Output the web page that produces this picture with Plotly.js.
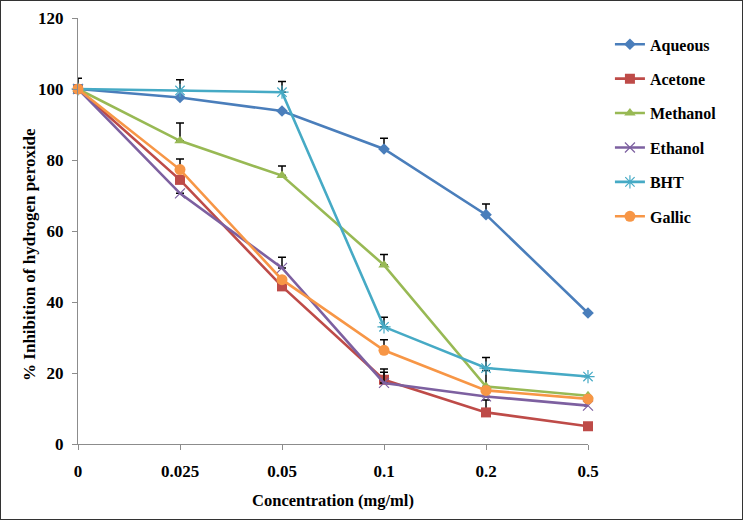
<!DOCTYPE html>
<html>
<head>
<meta charset="utf-8">
<script src="https://cdn.plot.ly/plotly-3.0.1.min.js"></script>
<style>
html,body{margin:0;padding:0;background:#fff;}
#chart{width:741px;height:518px;border:1px solid #333;}
</style>
</head>
<body>
<div id="chart"></div>
<script>
const categories = ["0", "0.025", "0.05", "0.1", "0.2", "0.5"];
const aqueous  = [100, 97.6, 93.8, 83.1, 64.6, 36.9];
const acetone  = [100, 74.4, 44.4, 18.1, 8.9, 5.0];
const methanol = [100, 85.4, 75.6, 50.4, 16.2, 13.6];
const ethanol  = [100, 70.6, 49.6, 17.2, 13.4, 10.8];
const bht      = [100, 99.6, 99.1, 33.0, 21.4, 19.0];
const gallic   = [100, 77.3, 46.3, 26.4, 15.1, 12.7];
const errAqueous  = [3, 0, 0, 3, 3, 0];
const errAcetone  = [0, 0, 0, 3, 3.5, 0];
const errMethanol = [0, 5, 2.7, 3, 4.5, 0];
const errEthanol  = [0, 0, 3, 3, 0, 0];
const errBht      = [0, 3, 3, 2.7, 3, 0];
const errGallic   = [0, 3, 0, 3, 0, 0];
const names = ["Aqueous", "Acetone", "Methanol", "Ethanol", "BHT", "Gallic"];
const xTitle = "Concentration (mg/ml)";
const yTitle = "% Inhibition of hydrogen peroxide";

const series = [aqueous, acetone, methanol, ethanol, bht, gallic];
const errs = [errAqueous, errAcetone, errMethanol, errEthanol, errBht, errGallic];
const colors = ["#4A7EBB", "#BE4B48", "#98B954", "#7D60A0", "#46AAC5", "#F79646"];
const symbols = ["diamond", "square", "triangle-up", "x-thin-open", "asterisk-open", "circle"];
const sizes = [9, 10, 10, 10, 11, 11];
const font = "Liberation Serif, Times New Roman, serif";

const traces = series.map((ys, i) => ({
  x: categories,
  y: ys,
  name: names[i],
  legendgroup: names[i],
  type: "scatter",
  mode: "lines+markers",
  cliponaxis: false,
  line: {color: colors[i], width: 2.6},
  marker: {symbol: symbols[i], size: sizes[i], color: colors[i], line: {color: colors[i], width: (i === 3 || i === 4) ? 1.2 : 0}},
  error_y: {type: "data", symmetric: false, array: errs[i], arrayminus: errs[i].map(() => 0), color: "#000", thickness: 1.5, width: 4}
}));

const layout = {
  width: 741, height: 518,
  margin: {l: 77, r: 154, t: 17, b: 75},
  paper_bgcolor: "#fff", plot_bgcolor: "#fff",
  font: {family: font, size: 16, color: "#000", weight: "bold"},
  showlegend: true,
  legend: {x: 1.043, y: 0.978, xanchor: "left", yanchor: "top", traceorder: "grouped", tracegroupgap: 10.6,
           font: {family: font, size: 16, color: "#000", weight: "bold"}, itemwidth: 30},
  xaxis: {
    type: "category", range: [0, 5], showgrid: false, zeroline: false,
    showline: true, linecolor: "#8c8c8c", linewidth: 1,
    ticks: "outside", ticklen: 5, tickcolor: "#8c8c8c",
    ticklabelstandoff: 7,
    tickfont: {family: font, size: 17, color: "#000", weight: "bold"},
    title: {text: xTitle, font: {family: font, size: 16.5, color: "#000", weight: "bold"}, standoff: 14}
  },
  yaxis: {
    range: [0, 120], dtick: 20, showgrid: false, zeroline: false,
    showline: true, linecolor: "#8c8c8c", linewidth: 1,
    ticks: "outside", ticklen: 5, tickcolor: "#8c8c8c",
    ticklabelstandoff: 5,
    tickfont: {family: font, size: 17, color: "#000", weight: "bold"}
  },
  annotations: [{
    text: yTitle, textangle: -90, showarrow: false,
    xref: "paper", yref: "paper", x: -0.094, y: 0.444, xanchor: "center", yanchor: "middle",
    font: {family: font, size: 17, color: "#000", weight: "bold"}
  }]
};

Plotly.newPlot("chart", traces, layout, {displayModeBar: false, staticPlot: true});
</script>
</body>
</html>
